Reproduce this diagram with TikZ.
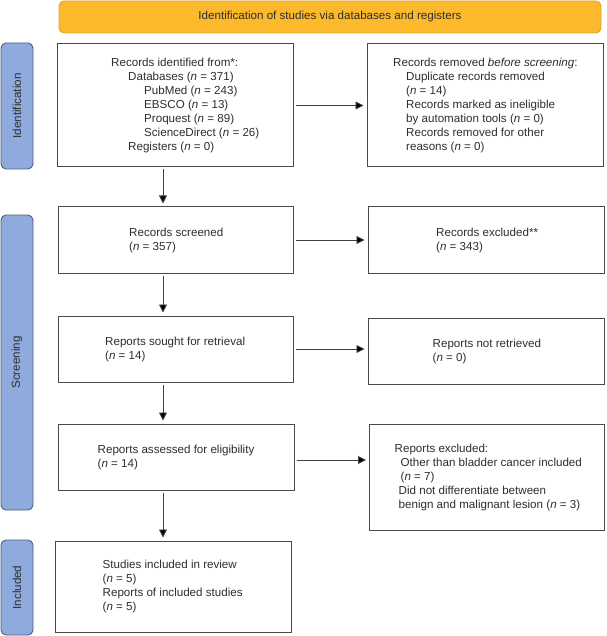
\documentclass[tikz,border=0pt]{standalone}
\usepackage{fontspec}
\setmainfont{Liberation Sans}
\usetikzlibrary{arrows.meta}
\definecolor{bannerfill}{HTML}{FBB92B}
\definecolor{bannerdraw}{HTML}{E3A236}
\definecolor{barfill}{HTML}{8FAADC}
\definecolor{bardraw}{HTML}{4A5F82}
\definecolor{boxdraw}{HTML}{4A4A4A}
\definecolor{txt}{HTML}{2E2E2E}
\definecolor{arrline}{HTML}{404040}
\tikzset{
  basefont/.style={font=\fontsize{11.6pt}{14pt}\selectfont, text=txt},
  flowbox/.style={draw=boxdraw, line width=1pt, fill=white, rectangle, inner sep=0pt},
  boxtext/.style={basefont, anchor=west, align=left, inner sep=0pt},
  sidebar/.style={draw=bardraw, line width=0.9pt, fill=barfill, rounded corners=5pt, inner sep=0pt},
  sidetext/.style={basefont, rotate=90, inner sep=0pt},
  bannerbox/.style={draw=bannerdraw, line width=0.9pt, fill=bannerfill, rounded corners=5pt, inner sep=0pt, basefont},
  arr/.style={draw=arrline, line width=0.9pt, -{Triangle[length=8pt,width=8pt,fill=black]}, shorten <=2pt, shorten >=3pt},
}
\begin{document}
\begin{tikzpicture}[x=1pt,y=-1pt]
\useasboundingbox (0,0) rectangle (606,636);

% banner
\node[bannerbox, minimum width=542pt, minimum height=32pt] (banner) at (330,17) {Identification of studies via databases and registers};

% side bars
\node[sidebar, minimum width=32pt, minimum height=126pt] (idbar) at (17,106) {};
\node[sidetext] (idtext) at (idbar.center) {Identification};
\node[sidebar, minimum width=32pt, minimum height=295pt] (scbar) at (17,362.5) {};
\node[sidetext] (sctext) at (scbar.center) {Screening};
\node[sidebar, minimum width=32pt, minimum height=95pt] (inbar) at (17,587.5) {};
\node[sidetext] (intext) at (inbar.center) {Included};

% boxes
\node[flowbox, minimum width=236pt, minimum height=123pt] (b1) at (175,105.5) {};
\node[flowbox, minimum width=236pt, minimum height=123pt] (b2) at (485,105.5) {};
\node[flowbox, minimum width=235pt, minimum height=66pt] (b3) at (175.5,240) {};
\node[flowbox, minimum width=236pt, minimum height=66pt] (b4) at (486,240) {};
\node[flowbox, minimum width=235pt, minimum height=66pt] (b5) at (175.5,349) {};
\node[flowbox, minimum width=236pt, minimum height=66pt] (b6) at (486,351) {};
\node[flowbox, minimum width=236pt, minimum height=66pt] (b7) at (176,457) {};
\node[flowbox, minimum width=235pt, minimum height=106pt] (b8) at (487,477) {};
\node[flowbox, minimum width=236pt, minimum height=91pt] (b9) at (173,586.5) {};

% texts
\node[boxtext] (t1) at (111,105.5) {Records identified from*:\\
\hspace*{17pt}Databases (\textit{n} = 371)\\
\hspace*{33pt}PubMed (\textit{n} = 243)\\
\hspace*{33pt}EBSCO (\textit{n} = 13)\\
\hspace*{33pt}Proquest (\textit{n} = 89)\\
\hspace*{33pt}ScienceDirect (\textit{n} = 26)\\
\hspace*{17pt}Registers (\textit{n} = 0)};
\node[boxtext] (t2) at (393,105.5) {Records removed \textit{before screening}:\\
\hspace*{13pt}Duplicate records removed\\
\hspace*{13pt}(\textit{n} = 14)\\
\hspace*{13pt}Records marked as ineligible\\
\hspace*{13pt}by automation tools (\textit{n} = 0)\\
\hspace*{13pt}Records removed for other\\
\hspace*{13pt}reasons (\textit{n} = 0)};
\node[boxtext] (t3) at (129,240) {Records screened\\(\textit{n} = 357)};
\node[boxtext] (t4) at (436,240) {Records excluded**\\(\textit{n} = 343)};
\node[boxtext] (t5) at (105,349) {Reports sought for retrieval\\(\textit{n} = 14)};
\node[boxtext] (t6) at (432.5,351) {Reports not retrieved\\(\textit{n} = 0)};
\node[boxtext] (t7) at (97.5,457) {Reports assessed for eligibility\\(\textit{n} = 14)};
\node[boxtext] (t8) at (394.5,477) {Reports excluded:\\
\hspace*{6pt}Other than bladder cancer included\\
\hspace*{6pt}(\textit{n} = 7)\\
\hspace*{4pt}Did not differentiate between\\
\hspace*{4pt}benign and malignant lesion (\textit{n} = 3)};
\node[boxtext] (t9) at (102.5,586) {Studies included in review\\(\textit{n} = 5)\\Reports of included studies\\(\textit{n} = 5)};

% connectors
\coordinate (colx) at (163,0);
\draw[arr] (b1.east) -- (b2.west);
\draw[arr] (b3.east) -- (b4.west);
\draw[arr] (b5.east) -- (b5.east -| b6.west);
\draw[arr] ([yshift=-3pt]b7.east) -- ([yshift=-3pt]b7.east -| b8.west);
\draw[arr] (b1.south -| colx) -- (b3.north -| colx);
\draw[arr] (b3.south -| colx) -- (b5.north -| colx);
\draw[arr] (b5.south -| colx) -- (b7.north -| colx);
\draw[arr] (b7.south -| colx) -- (b9.north -| colx);
\end{tikzpicture}
\end{document}
